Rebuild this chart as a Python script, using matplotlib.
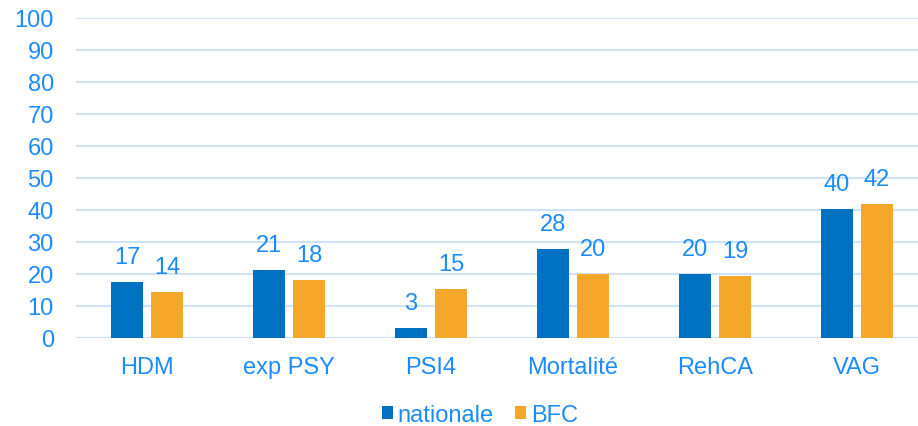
import numpy as np
import matplotlib
matplotlib.use("Agg")
import matplotlib.pyplot as plt

categories = ["HDM", "exp PSY", "PSI4", "Mortalité", "RehCA", "VAG"]
nationale = [17.3, 21.1, 3.0, 27.8, 19.9, 40.1]
bfc = [14.1, 18.0, 15.1, 19.9, 19.3, 41.9]
nationale_lbl = [17, 21, 3, 28, 20, 40]
bfc_lbl = [14, 18, 15, 20, 19, 42]

blue = "#0070C0"
orange = "#F5A72C"
txt = "#1A8CFF"
grid = "#CFE3F8"

plt.rcParams["font.family"] = ["Liberation Sans", "DejaVu Sans"]

fig = plt.figure(figsize=(9.18, 4.27), dpi=100)
ax = fig.add_axes([76/918, 88.5/427, 1 - 76/918, (408 - 88.5)/427])

x = np.arange(len(categories))
w = 0.225
off = 0.141
b1 = ax.bar(x - off, nationale, w, color=blue, label="nationale", zorder=2)
b2 = ax.bar(x + off, bfc, w, color=orange, label="BFC", zorder=2)

for bars, lbls in ((b1, nationale_lbl), (b2, bfc_lbl)):
    for r, l in zip(bars, lbls):
        ax.annotate(str(l), (r.get_x() + r.get_width()/2, r.get_height()),
                    xytext=(0, 25), textcoords="offset pixels",
                    ha="center", va="center", fontsize=17, color=txt)

ax.set_ylim(0, 100)
ax.set_yticks(range(0, 101, 10))
ax.set_xlim(-0.5, 5.43)
ax.set_xticks(x)
ax.set_xticklabels(categories)
ax.tick_params(axis="both", length=0, labelsize=17, labelcolor=txt)
ax.tick_params(axis="x", pad=13)
ax.tick_params(axis="y", pad=16)
ax.grid(axis="y", color=grid, linewidth=1.5, zorder=0)
for s in ax.spines.values():
    s.set_visible(False)

leg = fig.legend(handles=[b1, b2], loc="center", bbox_to_anchor=(480/918, 11/427),
                 ncol=2, frameon=False, fontsize=17, handlelength=0.47,
                 handleheight=0.47, handletextpad=0.2, columnspacing=0.9,
                 borderpad=0.2)
for t in leg.get_texts():
    t.set_color(txt)

fig.savefig("out.png", dpi=100)
